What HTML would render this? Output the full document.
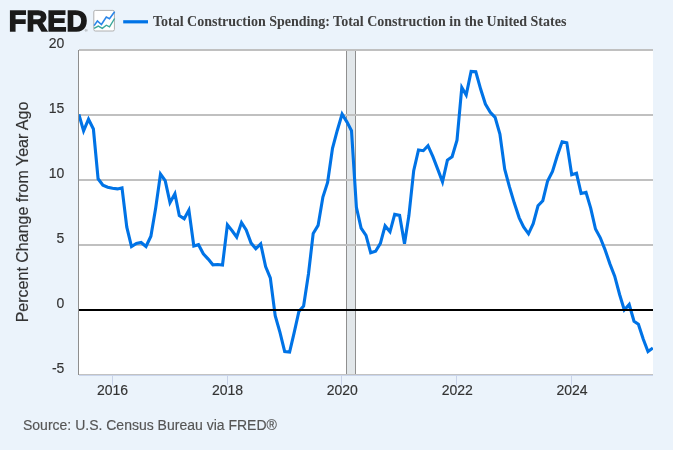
<!DOCTYPE html>
<html lang="en">
<head>
<meta charset="utf-8">
<title>Total Construction Spending: Total Construction in the United States</title>
<style>
html,body{margin:0;padding:0;background:#ebf3fb;}
body{width:673px;height:450px;overflow:hidden;}
svg{display:block;}
.ax{font-family:"Liberation Sans",Arial,Helvetica,sans-serif;font-size:14px;fill:#333333;stroke:#333333;stroke-width:0.15px;}
.ttl{font-family:"Liberation Serif","Times New Roman",serif;font-weight:bold;font-size:14px;fill:#404040;}
.logo{font-family:"Liberation Sans",Arial,Helvetica,sans-serif;font-weight:bold;font-size:30.4px;fill:#1a1a1a;stroke:#1a1a1a;stroke-width:1.6;stroke-linejoin:miter;}
.src{stroke:#555555;stroke-width:0.15px;font-family:"Liberation Sans",Arial,Helvetica,sans-serif;font-size:14px;fill:#555555;}
</style>
</head>
<body>
<svg width="673" height="450" viewBox="0 0 673 450">
<rect x="0" y="0" width="673" height="450" fill="#ebf3fb"/>
<rect x="79" y="50" width="574" height="325" fill="#ffffff"/>
<!-- recession band -->
<rect x="346.5" y="50" width="9" height="325" fill="#e2e7ea"/>
<rect x="346" y="50" width="1" height="325" fill="#8f8f8f"/>
<rect x="355" y="50" width="1" height="325" fill="#8f8f8f"/>
<!-- grid -->
<rect x="79" y="49" width="574" height="2" fill="#c0c0c0"/><rect x="79" y="114" width="574" height="2" fill="#c0c0c0"/><rect x="79" y="179" width="574" height="2" fill="#c0c0c0"/><rect x="79" y="244" width="574" height="2" fill="#c0c0c0"/>
<rect x="79" y="375" width="574" height="1" fill="#c9d5ec"/>
<rect x="78" y="50" width="1" height="325" fill="#8e8e8e"/>
<rect x="79" y="374" width="574" height="1" fill="#c2c2c2"/>
<rect x="112" y="375" width="1" height="10" fill="#c9d3e9"/><rect x="227" y="375" width="1" height="10" fill="#c9d3e9"/><rect x="341" y="375" width="1" height="10" fill="#c9d3e9"/><rect x="456" y="375" width="1" height="10" fill="#c9d3e9"/><rect x="571" y="375" width="1" height="10" fill="#c9d3e9"/>
<!-- series -->
<clipPath id="cp"><rect x="79" y="50" width="574" height="325"/></clipPath>
<polyline clip-path="url(#cp)" points="78.9,114.4 83.6,130.9 88.5,119.2 93.4,129.0 98.1,178.8 102.9,185.2 107.7,187.2 112.5,188.3 117.4,188.9 122.0,187.9 126.8,227.1 131.5,246.6 136.4,243.4 141.1,242.5 146.0,246.5 150.9,236.2 155.6,208.6 160.5,174.1 165.2,180.6 170.0,202.7 174.9,193.8 179.3,215.6 184.2,218.8 188.9,210.1 193.8,246.0 198.5,244.7 203.3,253.8 208.2,259.1 212.9,264.8 217.8,264.5 222.5,265.0 227.4,224.8 232.3,231.0 236.7,237.2 241.5,222.6 246.2,230.0 251.1,243.1 255.8,248.8 260.7,243.9 265.6,266.5 270.3,277.8 275.2,315.7 279.9,332.2 284.7,351.5 289.6,352.1 294.0,333.4 298.9,311.4 303.6,306.0 308.5,273.7 313.2,233.4 318.1,225.4 322.9,197.0 327.6,182.4 332.5,148.3 337.2,130.7 342.1,114.0 347.0,122.1 351.5,130.7 356.4,207.4 361.1,228.2 366.0,235.4 370.7,252.8 375.6,251.2 380.4,243.4 385.1,225.9 390.0,231.8 394.7,214.4 399.6,215.4 404.5,243.8 408.9,215.6 413.7,170.7 418.5,150.0 423.3,150.7 428.0,145.7 432.9,156.7 437.8,169.4 442.5,181.9 447.4,160.1 452.1,156.7 457.0,140.1 461.8,87.4 466.2,95.0 471.1,71.4 475.8,71.8 480.7,89.3 485.4,104.0 490.3,112.2 495.1,117.4 499.9,134.0 504.7,169.2 509.4,186.7 514.3,203.1 519.2,217.8 523.6,227.0 528.5,233.8 533.2,223.6 538.0,205.8 542.8,200.7 547.6,181.0 552.5,171.4 557.2,156.1 562.1,141.8 566.8,142.7 571.7,174.8 576.5,173.3 581.1,193.4 586.0,192.4 590.7,208.1 595.5,229.0 600.3,237.8 605.1,249.9 610.0,264.1 614.7,276.2 619.6,294.5 624.3,310.0 629.2,304.5 634.0,321.2 638.4,324.2 643.3,339.3 648.0,351.6 652.9,348.0" fill="none" stroke="#0073e6" stroke-width="3.1" stroke-linejoin="miter" stroke-miterlimit="4" stroke-linecap="butt"/>
<rect x="79" y="309" width="574" height="2" fill="#000000"/>
<!-- axis labels -->
<g class="ax"><text x="64.4" y="47.8" text-anchor="end">20</text><text x="64.4" y="112.8" text-anchor="end">15</text><text x="64.4" y="177.8" text-anchor="end">10</text><text x="64.4" y="242.8" text-anchor="end">5</text><text x="64.4" y="307.8" text-anchor="end">0</text><text x="64.4" y="372.8" text-anchor="end">-5</text><text x="112.6" y="395" text-anchor="middle">2016</text><text x="227.5" y="395" text-anchor="middle">2018</text><text x="342.3" y="395" text-anchor="middle">2020</text><text x="457.3" y="395" text-anchor="middle">2022</text><text x="572.1" y="395" text-anchor="middle">2024</text></g>
<text class="ax" transform="translate(28.1,212) rotate(-90)" text-anchor="middle" style="font-size:16px">Percent Change from Year Ago</text>
<!-- header -->
<text class="logo" x="8.85" y="31.1" textLength="78.4" lengthAdjust="spacingAndGlyphs">FRED</text>
<text x="84.8" y="32" style="font-family:'Liberation Sans',sans-serif;font-size:4px;fill:#666">®</text>
<g>
<rect x="93.8" y="10.4" width="20.6" height="20.6" rx="1.5" fill="#ffffff" stroke="#b0b0b0" stroke-width="1"/>
<polyline points="94.1,25.6 97.4,21 101.4,24.5 106.3,17 109.5,18.7 114.6,11.8" fill="none" stroke="#2b86e8" stroke-width="1.6"/>
<polyline points="94.1,28.4 98.3,26.1 102.3,28.3 106.3,25.2 109.5,26.8 114.6,18.5" fill="none" stroke="#3aa79a" stroke-width="1.4"/>
</g>
<rect x="123.2" y="20.2" width="24.8" height="3.2" fill="#0073e6"/>
<text class="ttl" x="153" y="25.5">Total Construction Spending: Total Construction in the United States</text>
<text class="src" x="23" y="430">Source: U.S. Census Bureau via FRED®</text>
</svg>
</body>
</html>
